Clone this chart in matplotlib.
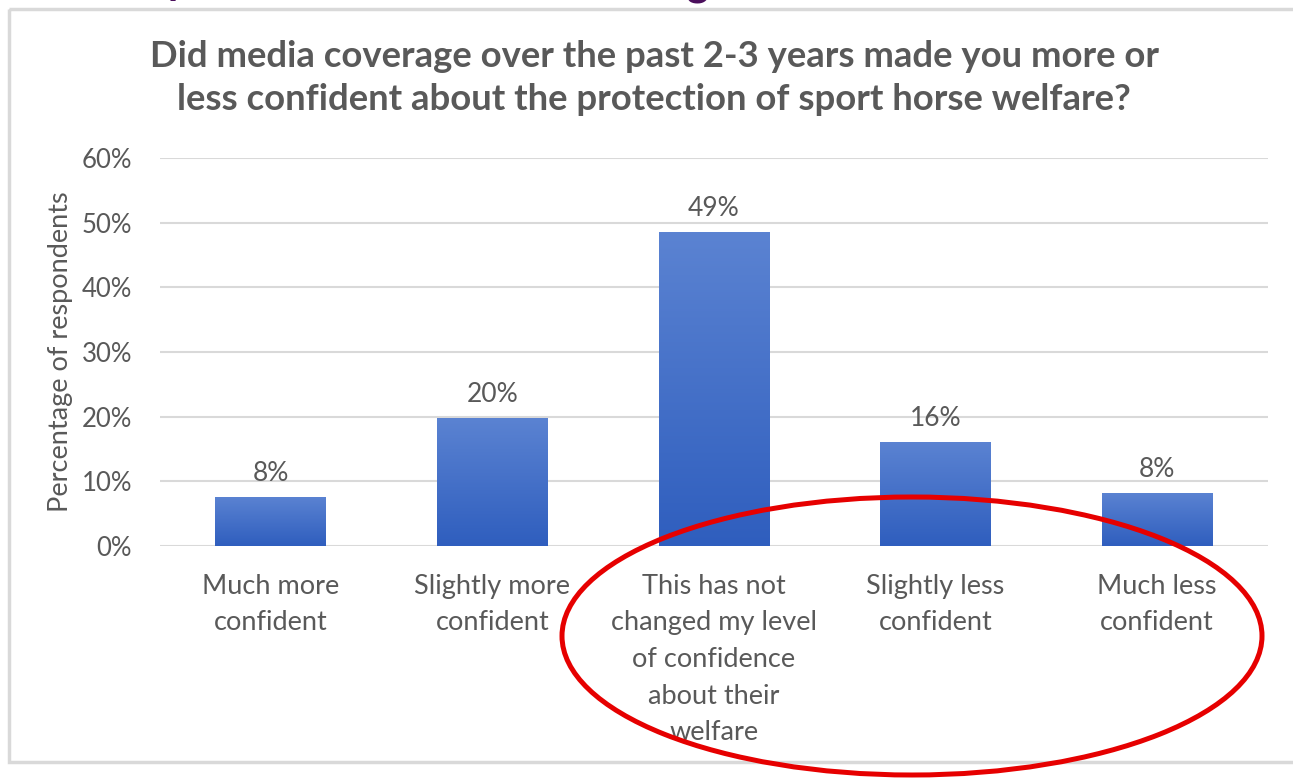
import matplotlib
matplotlib.use("Agg")
import matplotlib.pyplot as plt
from matplotlib.patches import Ellipse, Rectangle
from matplotlib.colors import LinearSegmentedColormap
import numpy as np

# survey answers and share of respondents
categories = ["Much more\nconfident", "Slightly more\nconfident",
              "This has not\nchanged my level\nof confidence\nabout their\nwelfare",
              "Slightly less\nconfident", "Much less\nconfident"]
values = [0.076, 0.198, 0.485, 0.161, 0.082]
value_labels = ["8%", "20%", "49%", "16%", "8%"]
yticks = [0, 0.1, 0.2, 0.3, 0.4, 0.5, 0.6]
ytick_labels = ["0%", "10%", "20%", "30%", "40%", "50%", "60%"]
title = ("Did media coverage over the past 2-3 years made you more or\n"
         "less confident about the protection of sport horse welfare?")

W, H = 1293, 779
txt = "#595959"
grid = "#d9d9d9"
plt.rcParams["font.family"] = ["Lato", "DejaVu Sans"]

fig = plt.figure(figsize=(W / 100, H / 100), dpi=100)
fig.patch.set_facecolor("white")

# overlay in pixel coordinates for frame, slide title remains, annotation
over = fig.add_axes([0, 0, 1, 1], zorder=0)
over.set_xlim(0, W)
over.set_ylim(H, 0)
over.axis("off")
over.add_patch(Rectangle((9, 9), W + 20, 753, fill=False, ec=grid, lw=2.5))
# bits of the slide heading cut off at the top edge
over.text(167, -6, "p", color="#4b0f5c", fontsize=30, fontweight="bold",
          va="baseline", ha="left", family="Lato")
over.text(687, -5, "g", color="#4b0f5c", fontsize=30, fontweight="bold",
          va="baseline", ha="left", family="Lato")

ax = fig.add_axes([160 / W, 1 - 546 / H, (1268 - 160) / W, (546 - 158) / H], zorder=1)
ax.patch.set_alpha(0)
x = np.arange(len(values))
bars = ax.bar(x, values, width=0.5, color="none", zorder=3)

cmap = LinearSegmentedColormap.from_list("bar", ["#2f5ebe", "#5b83d2"])
grad = np.linspace(0, 1, 256).reshape(-1, 1)
for b in bars:
    x0, w, h = b.get_x(), b.get_width(), b.get_height()
    im = ax.imshow(grad, cmap=cmap, origin="lower", aspect="auto",
                   extent=[x0, x0 + w, 0, h], zorder=3)
    im.set_clip_path(b)

for xi, v, lab in zip(x, values, value_labels):
    ax.annotate(lab, (xi, v), xytext=(0, 8), textcoords="offset points",
                ha="center", va="bottom", fontsize=19, color=txt)

ax.set_xlim(-0.5, len(values) - 0.5)
ax.set_ylim(0, 0.6)
ax.set_yticks(yticks)
ax.set_yticklabels(ytick_labels, fontsize=18.5, color=txt)
ax.set_xticks(x)
ax.set_xticklabels(categories, fontsize=19.5, color=txt, linespacing=1.58)
ax.tick_params(axis="y", length=0, pad=20)
ax.tick_params(axis="x", length=0, pad=20)
ax.grid(axis="y", color=grid, lw=1.5, zorder=0)
for s in ax.spines.values():
    s.set_visible(False)
ax.set_ylabel("Percentage of respondents", fontsize=19.5, color=txt, labelpad=6)

fig.text(654 / W, 1 - 78 / H, title, ha="center", va="center", fontsize=26.3,
         fontweight="bold", color=txt, linespacing=1.4)

# red ellipse highlighting the answers
top = fig.add_axes([0, 0, 1, 1], zorder=5)
top.set_xlim(0, W)
top.set_ylim(H, 0)
top.axis("off")
top.add_patch(Ellipse((912, 636), 700, 278, fill=False, ec="#e60000", lw=3.6))

fig.savefig("out.png", dpi=100)
